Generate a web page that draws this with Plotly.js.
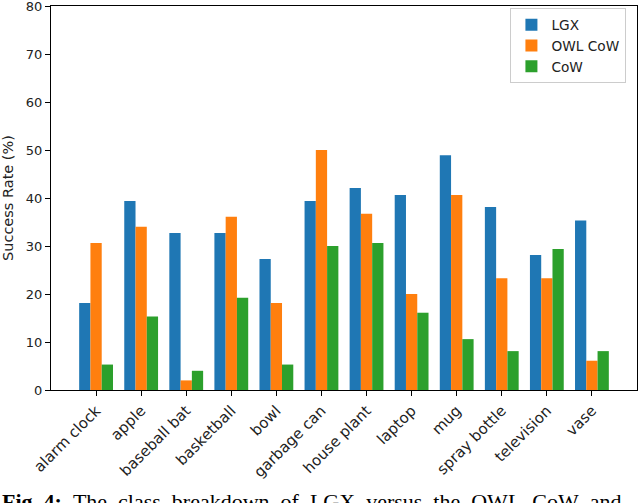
<!DOCTYPE html>
<html>
<head>
<meta charset="utf-8">
<script src="https://cdn.plot.ly/plotly-3.0.1.min.js"></script>
<style>
  html, body { margin: 0; padding: 0; background: #fff; }
  #chart { width: 640px; height: 503px; }
</style>
</head>
<body>
<div id="chart"></div>
<script>
// categories and success rates (%)
const categories = ['alarm clock', 'apple', 'baseball bat', 'basketball', 'bowl', 'garbage can',
    'house plant', 'laptop', 'mug', 'spray bottle', 'television', 'vase'];
const lgxRates = [18.1, 39.4, 32.7, 32.7, 27.3, 39.4, 42.1, 40.6, 48.9, 38.1, 28.1, 35.3];
const owlCowRates = [30.6, 34.0, 2.0, 36.1, 18.1, 50.0, 36.7, 20.0, 40.6, 23.3, 23.3, 6.1];
const cowRates = [5.3, 15.3, 4.0, 19.2, 5.3, 30.0, 30.6, 16.1, 10.6, 8.1, 29.4, 8.1];
const yTicks = [0, 10, 20, 30, 40, 50, 60, 70, 80];

const seriesNames = ['LGX', 'OWL CoW', 'CoW'];
const seriesColors = ['#1f77b4', '#ff7f0e', '#2ca02c'];
const seriesValues = [lgxRates, owlCowRates, cowRates];

const traces = seriesValues.map((vals, i) => ({
    type: 'bar',
    name: seriesNames[i],
    x: categories.map((c, k) => k),
    y: vals,
    marker: { color: seriesColors[i], line: { width: 0 } },
    hoverinfo: 'x+y+name'
}));

const tickFont = { family: 'DejaVu Sans, sans-serif', size: 13, color: '#222' };
const xTickFont = { family: 'DejaVu Sans, sans-serif', size: 15, color: '#222' };
const labelFont = { family: 'DejaVu Sans, sans-serif', size: 14.5, color: '#222' };
const legendFont = { family: 'DejaVu Sans, sans-serif', size: 13.7, color: '#222' };

const layout = {
    width: 640,
    height: 503,
    margin: { l: 51, r: 3, t: 6, b: 113 },
    paper_bgcolor: '#fff',
    plot_bgcolor: '#fff',
    barmode: 'group',
    bargap: 0.25,
    bargroupgap: 0,
    showlegend: true,
    font: tickFont,
    xaxis: {
        range: [-1, 12],
        tickmode: 'array',
        tickvals: categories.map((c, k) => k),
        ticktext: categories,
        tickangle: -45,
        ticks: 'outside', ticklen: 5, tickwidth: 1, tickcolor: '#000',
        showline: true, linecolor: '#000', linewidth: 1, mirror: true,
        showgrid: false, zeroline: false,
        tickfont: xTickFont
    },
    yaxis: {
        range: [0, 80],
        tickmode: 'array',
        tickvals: yTicks,
        ticklabeloverflow: 'allow',
        ticks: 'outside', ticklen: 5, tickwidth: 1, tickcolor: '#000',
        showline: true, linecolor: '#000', linewidth: 1, mirror: true,
        showgrid: false, zeroline: false,
        tickfont: tickFont,
        title: { text: 'Success Rate (%)', font: labelFont, standoff: 8 }
    },
    legend: {
        x: 0.784, y: 0.994, xanchor: 'left', yanchor: 'top',
        bgcolor: 'rgba(255,255,255,0.8)',
        bordercolor: '#cccccc', borderwidth: 1,
        font: legendFont,
        tracegroupgap: 0
    },
    annotations: [{
        xref: 'paper', yref: 'paper',
        x: -51 / 586, y: -97 / 384,
        xanchor: 'left', yanchor: 'top',
        showarrow: false,
        align: 'left',
        text: '<b>Fig.&nbsp;4:</b>&nbsp;&nbsp;The&nbsp;&nbsp;class&nbsp;&nbsp;breakdown&nbsp;&nbsp;of&nbsp;&nbsp;LGX&nbsp;&nbsp;versus&nbsp;&nbsp;the&nbsp;&nbsp;OWL&nbsp;&nbsp;CoW&nbsp;&nbsp;and',
        font: { family: 'Liberation Serif, serif', size: 22, color: '#000' }
    }]
};

Plotly.newPlot('chart', traces, layout, { displayModeBar: false, staticPlot: true });
</script>
</body>
</html>
